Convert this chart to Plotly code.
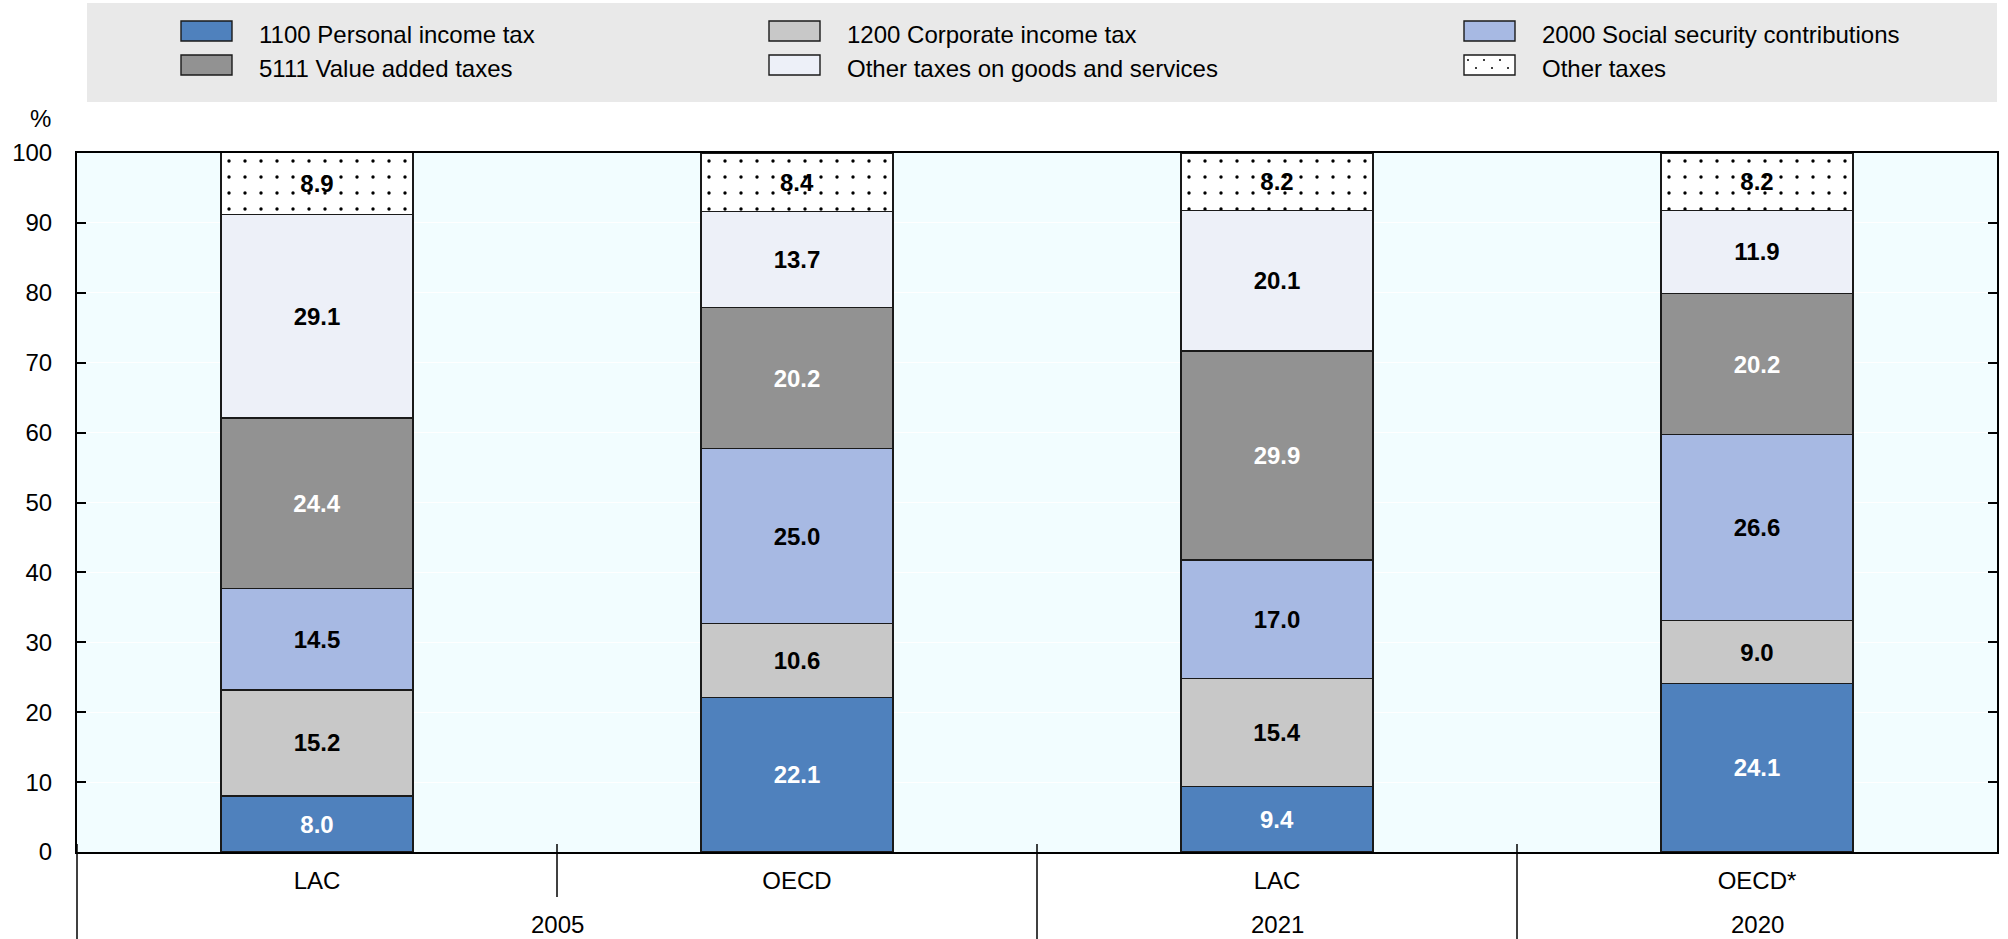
import plotly.graph_objects as go

# ---------------- data ----------------
years = ["2005", "2005", "2021", "2020"]
groups = ["LAC", "OECD", "LAC", "OECD*"]

series_names = [
    "1100 Personal income tax",
    "1200 Corporate income tax",
    "2000 Social security contributions",
    "5111 Value added taxes",
    "Other taxes on goods and services",
    "Other taxes",
]
personal_income = [8.0, 22.1, 9.4, 24.1]
corporate_income = [15.2, 10.6, 15.4, 9.0]
social_security = [14.5, 25.0, 17.0, 26.6]
value_added = [24.4, 20.2, 29.9, 20.2]
other_goods_services = [29.1, 13.7, 20.1, 11.9]
other_taxes = [8.9, 8.4, 8.2, 8.2]
series_values = [personal_income, corporate_income, social_security,
                 value_added, other_goods_services, other_taxes]

y_ticks = [0, 10, 20, 30, 40, 50, 60, 70, 80, 90, 100]

# ---------------- styles ----------------
colors = ["#4F81BD", "#C8C8C8", "#A7B9E3", "#929292", "#EDF0F8", "#FFFFFF"]
label_colors = ["white", "black", "black", "white", "black", "black"]
FONT = "Liberation Sans, Arial, sans-serif"
FS = 24
W, H = 2008, 939
L, R, T, B = 77, 1997, 153, 852    # plot area in px

def px_x(px):
    return (px - L) / (R - L)

def px_y(py):
    return (B - py) / (B - T)

cats = [f"{g} {y}" for g, y in zip(groups, years)]

fig = go.Figure()
for i, (name, vals) in enumerate(zip(series_names, series_values)):
    marker = dict(color=colors[i], line=dict(color="#1a1a1a", width=1.4))
    if name == "Other taxes":
        marker["pattern"] = dict(shape=".", fgcolor="black", bgcolor="white",
                                 size=16, solidity=0.035, fillmode="replace")
    fig.add_trace(go.Bar(
        x=cats, y=vals, name=name, marker=marker,
        text=[f"{v:.1f}" for v in vals], textposition="inside",
        insidetextanchor="middle", textangle=0, constraintext="none",
        textfont=dict(family=FONT, size=24, color=label_colors[i], weight="bold"),
        showlegend=False, hoverinfo="skip",
    ))

shapes = []
annotations = []
# legend box
shapes.append(dict(type="rect", xref="paper", yref="paper",
                   x0=px_x(87), x1=px_x(1997), y0=px_y(102), y1=px_y(3),
                   fillcolor="#E9E9E9", line=dict(width=0), layer="below"))
col_x = [181, 769, 1464]
row_y = [31, 65]
for k in range(len(series_names)):
    c, r = k % 3, k // 3
    x0, y0 = col_x[c], row_y[r] - 10
    shapes.append(dict(type="rect", xref="paper", yref="paper",
                       x0=px_x(x0), x1=px_x(x0 + 51), y0=px_y(y0 + 20), y1=px_y(y0),
                       fillcolor=colors[k], line=dict(color="#1a1a1a", width=1.4)))
    if series_names[k] == "Other taxes":
        for rr, yy in enumerate([y0 + 5, y0 + 13]):
            xx = x0 + 4 + (8 if rr else 0)
            while xx < x0 + 49:
                shapes.append(dict(type="circle", xref="paper", yref="paper",
                                   x0=px_x(xx - 1), x1=px_x(xx + 1),
                                   y0=px_y(yy + 1), y1=px_y(yy - 1),
                                   fillcolor="black", line=dict(width=0)))
                xx += 16
    annotations.append(dict(xref="paper", yref="paper", x=px_x(x0 + 76),
                            y=px_y(row_y[r] + 3),
                            text=series_names[k], showarrow=False, xanchor="left",
                            yanchor="middle",
                            font=dict(family=FONT, size=FS, color="black")))

# '%' label
annotations.append(dict(xref="paper", yref="paper", x=px_x(53), y=px_y(118), text="%",
                        showarrow=False, xanchor="right", yanchor="middle",
                        font=dict(family=FONT, size=FS, color="black")))

# year (outer category) labels, centred on their groups
for yr in dict.fromkeys(years):
    idx = [i for i, v in enumerate(years) if v == yr]
    annotations.append(dict(xref="x", yref="paper", x=sum(idx) / len(idx), y=px_y(924),
                            text=yr, showarrow=False, xanchor="center", yanchor="middle",
                            font=dict(family=FONT, size=FS, color="black")))

# category dividers / ticks
for xb, ybot in [(L, 939), (L + 2 * 480, 939), (L + 3 * 480, 939), (L + 480, 897)]:
    shapes.append(dict(type="line", xref="paper", yref="paper",
                       x0=px_x(xb), x1=px_x(xb), y0=px_y(844), y1=px_y(ybot),
                       line=dict(color="black", width=1.5)))

fig.update_layout(
    width=W, height=H,
    margin=dict(l=L, r=W - R, t=T, b=H - B, pad=0),
    paper_bgcolor="white", plot_bgcolor="#F2FDFF",
    barmode="stack", bargap=0.6,
    font=dict(family=FONT, size=FS, color="black"),
    shapes=shapes, annotations=annotations,
    showlegend=False,
)
fig.update_xaxes(type="category", tickvals=cats, ticktext=groups, ticks="",
                 showline=True, linecolor="black", linewidth=2, mirror=True,
                 showgrid=False, automargin=False,
                 tickfont=dict(family=FONT, size=FS, color="black"),
                 ticklabelstandoff=6)
fig.update_yaxes(range=[0, 100], tickvals=y_ticks, ticks="inside", ticklen=9,
                 tickwidth=2, tickcolor="black", showline=True, linecolor="black",
                 linewidth=2, mirror="ticks", showgrid=True, gridcolor="white",
                 gridwidth=1.2, zeroline=False, ticklabelstandoff=18, automargin=False,
                 tickfont=dict(family=FONT, size=FS, color="black"))

fig.write_html(
    "out.html",
    config={"displayModeBar": False},
    post_script="document.body.style.margin='0px';document.body.style.overflow='hidden';",
)
